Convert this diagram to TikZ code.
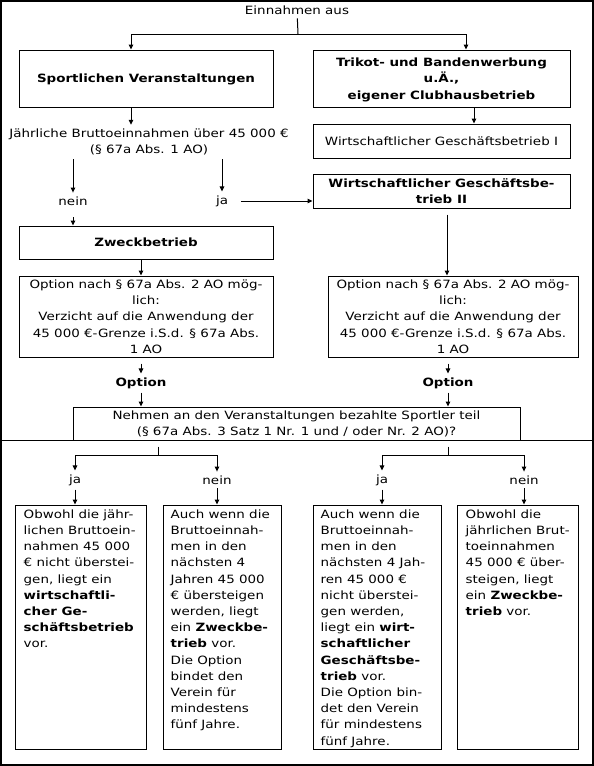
\documentclass[tikz,border=0pt]{standalone}
\usepackage{fontspec}
\setmainfont{DejaVu Sans}[FakeStretch=1.18]
\usepackage{tikz}
\usetikzlibrary{arrows.meta,positioning}

\begin{document}
\begin{tikzpicture}[
        x=1pt, y=-1pt,
        every node/.style={font=\fontsize{11.4}{16.2}\selectfont},
        box/.style={draw, line width=1pt, inner sep=0pt, align=center, text depth=-2.5pt},
        txt/.style={inner sep=0pt, outer sep=4pt, align=center},
        bodytxt/.style={inner sep=0pt, align=left, anchor=north west},
        arr/.style={-{Triangle[length=5pt,width=4.5pt]}, line width=1pt},
        ln/.style={line width=1pt}
    ]
        \useasboundingbox (0,0) rectangle (594,766);
        % Frame
        \draw[line width=1.5pt] (1,1) rectangle (593,765);
        \draw[ln] (1,440) -- (593,440);

        % Upper part
        \node[txt] (einnahmen) at (297,10) {Einnahmen aus};
        \node[box, minimum width=254, minimum height=57] (sport) at (146,78.5) {\bfseries Sportlichen Veranstaltungen};
        \node[box, minimum width=257, minimum height=57] (trikot) at (441.5,78.5) {\bfseries Trikot- und Bandenwerbung\\\bfseries u.Ä.,\\\bfseries eigener Clubhausbetrieb};
        \node[txt] (brutto) at (149,142) {Jährliche Bruttoeinnahmen über 45 000 €\\(§ 67a Abs. 1 AO)};
        \node[box, minimum width=257, minimum height=34] (wg1) at (441.5,141) {Wirtschaftlicher Geschäftsbetrieb I};
        \node[box, minimum width=257, minimum height=34] (wg2) at (441.5,191) {\bfseries Wirtschaftlicher Geschäftsbe-\\\bfseries trieb II};
        \node[txt] (nein1) at (73,201) {nein};
        \node[txt] (ja1) at (222,201) {ja};
        \node[box, minimum width=254, minimum height=33] (zweck) at (146,242.5) {\bfseries Zweckbetrieb};
        \node[box, minimum width=254, minimum height=81] (optL) at (146,316.5) {Option nach § 67a Abs. 2 AO mög-\\lich:\\Verzicht auf die Anwendung der\\45 000 €-Grenze i.S.d. § 67a Abs.\\1 AO};
        \node[box, minimum width=250, minimum height=81] (optR) at (453,316.5) {Option nach § 67a Abs. 2 AO mög-\\lich:\\Verzicht auf die Anwendung der\\45 000 €-Grenze i.S.d. § 67a Abs.\\1 AO};
        \node[txt, font=\fontsize{11.4}{16.2}\selectfont\bfseries] (optLabL) at (141,383) {Option};
        \node[txt, font=\fontsize{11.4}{16.2}\selectfont\bfseries] (optLabR) at (448,383) {Option};
        \node[box, minimum width=447, minimum height=33] (nehmen) at (296.5,423.5) {Nehmen an den Veranstaltungen bezahlte Sportler teil\\(§ 67a Abs. 3 Satz 1 Nr. 1 und / oder Nr. 2 AO)?};

        % Lower part
        \coordinate (splitL) at (158,455);
        \coordinate (splitR) at (448,455);
        \node[txt] (ja2) at (75,480) {ja};
        \node[txt] (nein2) at (217,480) {nein};
        \node[txt] (ja3) at (382,480) {ja};
        \node[txt] (nein3) at (524,480) {nein};
        \node[box, minimum width=131, minimum height=244] (res1) at (80.5,627) {};
        \node[box, minimum width=118, minimum height=244] (res2) at (222,627) {};
        \node[box, minimum width=128, minimum height=244] (res3) at (377,627) {};
        \node[box, minimum width=121, minimum height=244] (res4) at (517.5,627) {};
        \node[bodytxt] at ([shift={(9,5)}]res1.north west) {Obwohl die jähr-\\lichen Bruttoein-\\nahmen 45 000\\€ nicht überstei-\\gen, liegt ein\\\textbf{wirtschaftli-}\\\textbf{cher Ge-}\\\textbf{schäftsbetrieb}\\vor.};
        \node[bodytxt] at ([shift={(8,5)}]res2.north west) {Auch wenn die\\Bruttoeinnah-\\men in den\\nächsten 4\\Jahren 45 000\\€ übersteigen\\werden, liegt\\ein \textbf{Zweckbe-}\\\textbf{trieb} vor.\\Die Option\\bindet den\\Verein für\\mindestens\\fünf Jahre.};
        \node[bodytxt] at ([shift={(8,5)}]res3.north west) {Auch wenn die\\Bruttoeinnah-\\men in den\\nächsten 4 Jah-\\ren 45 000 €\\nicht überstei-\\gen werden,\\liegt ein \textbf{wirt-}\\\textbf{schaftlicher}\\\textbf{Geschäftsbe-}\\\textbf{trieb} vor.\\Die Option bin-\\det den Verein\\für mindestens\\fünf Jahre.};
        \node[bodytxt] at ([shift={(9,5)}]res4.north west) {Obwohl die\\jährlichen Brut-\\toeinnahmen\\45 000 € über-\\steigen, liegt\\ein \textbf{Zweckbe-}\\\textbf{trieb} vor.};

        % Connectors
        \coordinate (top) at (298,34);
        \draw[ln] (einnahmen) -- (top);
        \draw[arr] (top) -| ([xshift=-15pt]sport.north);
        \draw[arr] (top) -| ([xshift=24.5pt]trikot.north);
        \draw[arr] ([xshift=-15pt]sport.south) -- ([xshift=-18pt]brutto.north);
        \draw[arr] ([xshift=32.5pt]trikot.south) -- ([xshift=32.5pt]wg1.north);
        \draw[arr] (brutto.south -| nein1) -- (nein1);
        \draw[arr] (brutto.south -| ja1) -- (ja1);
        \draw[arr, shorten <=9pt] (ja1) -- (wg2.west |- ja1);
        \draw[arr, shorten <=8pt] (nein1) -- (nein1 |- zweck.north);
        \draw[arr] ([xshift=-5pt]zweck.south) -- ([xshift=-5pt]optL.north);
        \draw[arr, shorten <=6pt] ([xshift=5.5pt]wg2.south) -- ([xshift=-6pt]optR.north);
        \draw[arr, shorten <=6pt] (optL.south -| optLabL) -- (optLabL);
        \draw[arr, shorten <=6pt] (optR.south -| optLabR) -- (optLabR);
        \draw[arr] (optLabL) -- (optLabL |- nehmen.north);
        \draw[arr] (optLabR) -- (optLabR |- nehmen.north);
        \draw[ln, shorten <=6pt] (nehmen.south -| splitL) -- (splitL);
        \draw[ln, shorten <=6pt] (nehmen.south -| splitR) -- (splitR);
        \draw[arr] (splitL) -| (ja2);
        \draw[arr] (splitL) -| (nein2);
        \draw[arr] (splitR) -| (ja3);
        \draw[arr] (splitR) -| (nein3);
        \draw[arr] (ja2) -- (ja2 |- res1.north);
        \draw[arr] (nein2) -- (nein2 |- res2.north);
        \draw[arr] (ja3) -- (ja3 |- res3.north);
        \draw[arr] (nein3) -- (nein3 |- res4.north);
    \end{tikzpicture}
\end{document}
